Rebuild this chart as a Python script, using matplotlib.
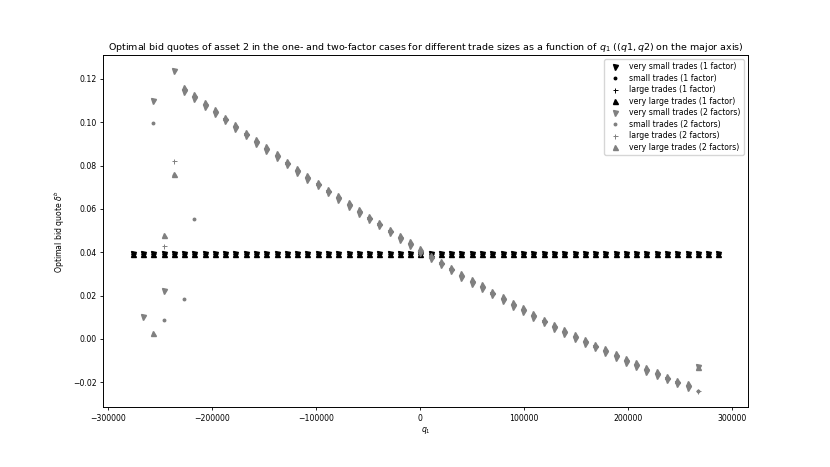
import numpy as np
import matplotlib
matplotlib.use("Agg")
import matplotlib.pyplot as plt

nan = np.nan

# trade size q1 on the major axis
q1 = [-276400, -266500, -256600, -246700, -236800, -227000, -217100, -207200,
      -197300, -187500, -177600, -167700, -157800, -147900, -138100, -128200,
      -118300, -108400, -98600, -88700, -78800, -68900, -59100, -49200,
      -39300, -29400, -19500, -9700, 200, 10100, 20000, 29800,
      39700, 49600, 59500, 69300, 79200, 89100, 99000, 108900,
      118700, 128600, 138500, 148400, 158200, 168100, 178000, 187900,
      197700, 207600, 217500, 227400, 237300, 247100, 257000, 266900,
      276800, 286600]

# one factor: flat quote
one_factor = [0.0393] * len(q1)

# two factors
vsmall_2f = [nan, 0.0101, 0.1097, 0.0223, 0.1235,
             0.1140, 0.1109, 0.1072, 0.1038, 0.1004, 0.0970, 0.0935, 0.0901, 0.0867, 0.0835,
             0.0801, 0.0767, 0.0734, 0.0704, 0.0672, 0.0642, 0.0610, 0.0578, 0.0547, 0.0519,
             0.0487, 0.0457, 0.0429, 0.0396, 0.0367, 0.0339, 0.0312, 0.0281, 0.0255, 0.0229,
             0.0201, 0.0175, 0.0149, 0.0123, 0.0097, 0.0072, 0.0047, 0.0023, -0.0001, -0.0023,
             -0.0044, -0.0065, -0.0087, -0.0110, -0.0130, -0.0152, -0.0170, -0.0192, -0.0210, -0.0227,
             -0.0131, nan, nan]
small_2f = [nan, nan, 0.0997, 0.0086, 0.0758,
            0.0182, 0.0555, 0.1083, 0.1049, 0.1015, 0.0981, 0.0946, 0.0912, 0.0878, 0.0846,
            0.0812, 0.0778, 0.0745, 0.0715, 0.0683, 0.0653, 0.0621, 0.0589, 0.0558, 0.0530,
            0.0498, 0.0468, 0.0440, 0.0407, 0.0378, 0.0350, 0.0323, 0.0292, 0.0266, 0.0240,
            0.0212, 0.0186, 0.0160, 0.0134, 0.0108, 0.0083, 0.0058, 0.0034, 0.0010, -0.0012,
            -0.0033, -0.0054, -0.0076, -0.0099, -0.0119, -0.0141, -0.0159, -0.0181, -0.0199, -0.0216,
            -0.0242, nan, nan]
large_2f = [nan, nan, nan, 0.0429, 0.0820,
            0.1151, 0.1120, 0.1083, 0.1049, 0.1015, 0.0981, 0.0946, 0.0912, 0.0878, 0.0846,
            0.0812, 0.0778, 0.0745, 0.0715, 0.0683, 0.0653, 0.0621, 0.0589, 0.0558, 0.0530,
            0.0498, 0.0468, 0.0440, 0.0407, 0.0378, 0.0350, 0.0323, 0.0292, 0.0266, 0.0240,
            0.0212, 0.0186, 0.0160, 0.0134, 0.0108, 0.0083, 0.0058, 0.0034, 0.0010, -0.0012,
            -0.0033, -0.0054, -0.0076, -0.0099, -0.0119, -0.0141, -0.0159, -0.0181, -0.0199, -0.0216,
            -0.0242, nan, nan]
vlarge_2f = [nan, nan, 0.0029, 0.0478, 0.0762,
             0.1162, 0.1131, 0.1094, 0.1060, 0.1026, 0.0992, 0.0957, 0.0923, 0.0889, 0.0857,
             0.0823, 0.0789, 0.0756, 0.0726, 0.0694, 0.0664, 0.0632, 0.0600, 0.0569, 0.0541,
             0.0509, 0.0479, 0.0451, 0.0418, 0.0389, 0.0361, 0.0334, 0.0303, 0.0277, 0.0251,
             0.0223, 0.0197, 0.0171, 0.0145, 0.0119, 0.0094, 0.0069, 0.0045, 0.0021, -0.0001,
             -0.0022, -0.0043, -0.0065, -0.0088, -0.0108, -0.0130, -0.0148, -0.0170, -0.0188, -0.0205,
             -0.0131, nan, nan]

plt.rcParams['font.size'] = 5.6
plt.rcParams['axes.linewidth'] = 0.7

fig, ax = plt.subplots(figsize=(8.3, 4.67), dpi=100)
fig.subplots_adjust(left=0.1245, right=0.9008, top=0.8816, bottom=0.1278)

ms = 3.6
ax.plot(q1, one_factor, 'v', color='black', ms=ms, label='very small trades (1 factor)')
ax.plot(q1, one_factor, '.', color='black', ms=ms, label='small trades (1 factor)')
ax.plot(q1, one_factor, '+', color='black', ms=ms, mew=0.7, label='large trades (1 factor)')
ax.plot(q1, one_factor, '^', color='black', ms=ms, label='very large trades (1 factor)')
ax.plot(q1, vsmall_2f, 'v', color='grey', ms=ms, label='very small trades (2 factors)')
ax.plot(q1, small_2f, '.', color='grey', ms=ms, label='small trades (2 factors)')
ax.plot(q1, large_2f, '+', color='grey', ms=ms, mew=0.7, label='large trades (2 factors)')
ax.plot(q1, vlarge_2f, '^', color='grey', ms=ms, label='very large trades (2 factors)')

ax.tick_params(length=2.5, width=0.6, pad=2)
ax.set_xlabel('$q_1$', labelpad=2)
ax.set_ylabel(r'Optimal bid quote $\delta^b$', labelpad=5)
ax.set_title('Optimal bid quotes of asset 2 in the one- and two-factor cases for different '
             'trade sizes as a function of $q_1$ (($q1,q2$) on the major axis)',
             fontsize=6.8, pad=4)
ax.legend(loc='upper right', fontsize=5.6, frameon=True, borderpad=0.4,
          handletextpad=0.8, labelspacing=0.32)

fig.savefig('out.png', dpi=100)
